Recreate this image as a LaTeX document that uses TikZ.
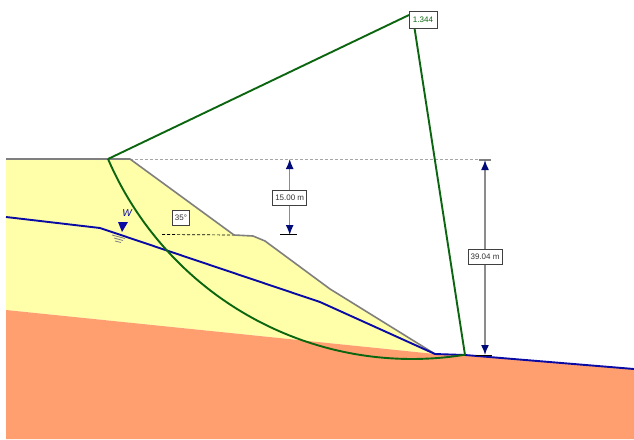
\documentclass[tikz,border=0pt]{standalone}
\usepackage{fontspec}
\setmainfont{Liberation Sans}
\usetikzlibrary{arrows.meta}
\definecolor{soil}{HTML}{FFFFAA}
\definecolor{rock}{HTML}{FF9F70}
\definecolor{slip}{HTML}{0B660F}
\definecolor{water}{HTML}{0A0AA5}
\definecolor{navy}{HTML}{000A78}
\definecolor{surf}{HTML}{7F7F7F}
\tikzset{
  lab/.style={draw=black!75,fill=white,line width=0.8pt,font=\fontsize{8}{9}\selectfont,text=black!80,inner sep=0pt,minimum height=15pt,align=center},
  dim/.style={draw=black!45,line width=1.5pt,{Latex[length=10pt,width=8pt,color=navy]}-{Latex[length=10pt,width=8pt,color=navy]}},
  slipline/.style={draw=slip,line width=1.9pt},
  waterline/.style={draw=water,line width=1.9pt,line join=round},
  tick/.style={line width=0.8pt},
}
\begin{document}
\begin{tikzpicture}[x=1pt,y=-1pt]
\useasboundingbox (0,0) rectangle (634,439);
\fill[white] (0,0) rectangle (634,439);
% materials
\fill[soil] (6,159) -- (130,159) -- (234,235) -- (253,236) -- (265,241) -- (330,289) -- (435,354) -- (6,310) -- cycle;
\fill[rock] (6,310) -- (435,354) -- (465,355) -- (634,369) -- (634,439) -- (6,439) -- cycle;
% coordinates
\coordinate (crestL) at (6,159);
\coordinate (crestR) at (130,159);
\coordinate (toe) at (435,354);
\coordinate (slipA) at (108,159);
\coordinate (slipB) at (465,355);
\coordinate (dimA) at (289.7,159);
\coordinate (dimB) at (289.7,235);
\coordinate (dimC) at (485,160);
\coordinate (dimD) at (485,355);
\coordinate (bench) at (234,235);
\coordinate (apexL) at (409,15);
\coordinate (apexR) at (414.5,28);
% dashed references
\draw[surf!70,densely dashed,line width=0.7pt] (crestR) -- (dimC |- crestR);
\draw[black,densely dashed,line width=0.7pt] (162,234.5) -- (bench);
% ground surface
\draw[surf,line width=1.6pt,line join=round] (crestL) -- (crestR) -- (bench) -- (253,236) -- (265,241) -- (330,289) -- (toe);
% water table
\draw[waterline] (6,217) -- (100,228) -- (320,302) -- (toe) -- (slipB) -- (634,369);
% slip surface
\draw[slipline] plot[domain=156.7:80.8,samples=60,smooth] ({412+331*cos(\x)},{28+331*sin(\x)});
% water symbol
\fill[water] (118,222) -- (128,222) -- (122,232) -- cycle;
\draw[surf,tick] (112,235) -- (125,238.5) (114,238) -- (123,240.5) (115,241) -- (121,242.5);
\node[text=water,font=\fontsize{10}{10}\selectfont\itshape,inner sep=0pt] (wlabel) at (127,213.5) {W};
% radii
\draw[slipline] (slipA) -- (apexL);
\draw[slipline] (apexR) -- (slipB);
\node[lab,text=slip,minimum width=28pt,minimum height=17pt] (fs) at (423,19.5) {1.344};
% dimensions
\draw[black,tick] (280,234.5) -- (297,234.5);
\draw[dim] (dimA) -- (dimB);
\node[lab,minimum width=34pt] (h1) at (289.7,197.5) {15.00 m};
\draw[surf,line width=1.2pt] (479,160) -- (491,160);
\draw[black,tick] (476,355) -- (492,355);
\draw[dim] (dimC) -- (dimD);
\node[lab,minimum width=34pt] (h2) at (485,257) {39.04 m};
\node[lab,minimum width=17pt] (ang) at (181,218) {35°};
\end{tikzpicture}
\end{document}
